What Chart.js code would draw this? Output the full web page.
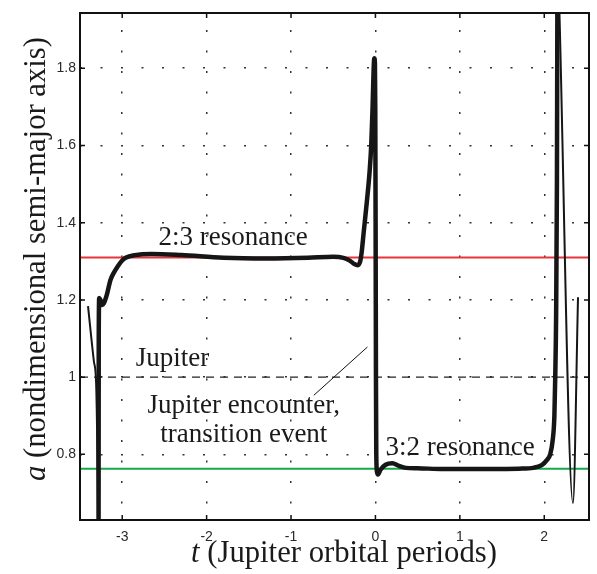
<!DOCTYPE html>
<html>
<head>
<meta charset="utf-8">
<script src="https://cdn.jsdelivr.net/npm/chart.js@4"></script>
<style>
  body { margin: 0; background: #fff; }
  #wrap { width: 597px; height: 574px; }
</style>
</head>
<body>
<div id="wrap"><canvas id="chart"></canvas></div>
<script>
// axis ticks
const tickT = [-3, -2, -1, 0, 1, 2];
const tickA = [0.8, 1, 1.2, 1.4, 1.6, 1.8];

// reference levels: 2:3 resonance, Jupiter, 3:2 resonance
const levelA = [1.31, 1.0, 0.763];

// orbit (t in Jupiter periods, a nondimensional)
const earlyT = [-3.405, -3.37, -3.335, -3.31, -3.297, -3.29, -3.285];
const earlyA = [1.184, 1.11, 1.04, 0.99, 0.85, 0.70, 0.55];

const mainT = [-3.28, -3.278, -3.272, -3.26, -3.24, -3.22, -3.18, -3.14, -3.10, -3.05, -3.0, -2.96,
  -2.85, -2.65, -2.3, -1.8, -1.3, -0.8, -0.5, -0.38, -0.3, -0.25, -0.21, -0.18, -0.165, -0.14,
  -0.10, -0.07, -0.05, -0.035, -0.025, -0.018, -0.012, -0.006, -0.002, 0.002, 0.006, 0.01,
  0.018, 0.03, 0.06, 0.12, 0.2, 0.28, 0.36, 0.5, 0.8, 1.1, 1.4, 1.7, 1.87, 1.97, 2.03, 2.07,
  2.10, 2.12, 2.13, 2.14, 2.15, 2.155, 2.16];
const mainA = [0.55, 1.10, 1.205, 1.20, 1.187, 1.19, 1.215, 1.251, 1.27, 1.288, 1.302, 1.309,
  1.316, 1.319, 1.316, 1.309, 1.307, 1.309, 1.312, 1.309, 1.301, 1.293, 1.29, 1.30, 1.32, 1.373,
  1.458, 1.53, 1.60, 1.69, 1.77, 1.815, 1.826, 1.81, 1.70, 1.40, 1.00, 0.80,
  0.755, 0.748, 0.76, 0.773, 0.777, 0.77, 0.765, 0.764, 0.762, 0.762, 0.762, 0.763, 0.765, 0.772, 0.785, 0.80,
  0.837, 0.90, 1.0, 1.15, 1.5, 1.94, 2.3];

const lateT = [2.179, 2.34, 2.40];
const lateA = [1.95, 0.674, 1.207];

const tMin = -3.5, tMax = 2.53, aMin = 0.63, aMax = 1.943;

const notes = [
  { text: '2:3 resonance', t: -2.57, a: 1.342, align: 'left' },
  { text: 'Jupiter', t: -2.84, a: 1.028, align: 'left' },
  { text: 'Jupiter encounter,', t: -1.56, a: 0.906, align: 'center' },
  { text: 'transition event', t: -1.56, a: 0.832, align: 'center' },
  { text: '3:2 resonance', t: 0.12, a: 0.798, align: 'left' }
];
const pointerT = [-0.73, -0.095];
const pointerA = [0.953, 1.078];

const toPts = (xs, ys) => xs.map((x, i) => ({ x: x, y: ys[i] }));
const level = v => [{ x: tMin, y: v }, { x: tMax, y: v }];

const serif = '"Liberation Serif", "Times New Roman", serif';

const overlay = {
  id: 'overlay',
  afterDatasetsDraw(chart) {
    const ctx = chart.ctx;
    const area = chart.chartArea;
    const x = chart.scales.x, y = chart.scales.y;
    ctx.save();

    // pointer line
    ctx.strokeStyle = '#111';
    ctx.lineWidth = 1;
    ctx.beginPath();
    ctx.moveTo(x.getPixelForValue(pointerT[0]), y.getPixelForValue(pointerA[0]));
    ctx.lineTo(x.getPixelForValue(pointerT[1]), y.getPixelForValue(pointerA[1]));
    ctx.stroke();

    // box and inward ticks
    ctx.lineWidth = 2;
    ctx.strokeRect(area.left, area.top, area.right - area.left, area.bottom - area.top);
    ctx.lineWidth = 1.5;
    ctx.beginPath();
    tickT.forEach(v => {
      const px = x.getPixelForValue(v);
      ctx.moveTo(px, area.bottom); ctx.lineTo(px, area.bottom - 5);
      ctx.moveTo(px, area.top); ctx.lineTo(px, area.top + 5);
    });
    tickA.forEach(v => {
      const py = y.getPixelForValue(v);
      ctx.moveTo(area.left, py); ctx.lineTo(area.left + 5, py);
      ctx.moveTo(area.right, py); ctx.lineTo(area.right - 5, py);
    });
    ctx.stroke();

    // annotations
    ctx.fillStyle = '#1a1a1a';
    ctx.font = '27px ' + serif;
    ctx.textBaseline = 'alphabetic';
    notes.forEach(n => {
      ctx.textAlign = n.align;
      ctx.fillText(n.text, x.getPixelForValue(n.t), y.getPixelForValue(n.a));
    });

    // axis titles with italic symbols
    const title = (sym, rest) => {
      ctx.font = 'italic 30.7px ' + serif;
      const w1 = ctx.measureText(sym).width;
      ctx.font = '30.7px ' + serif;
      const w2 = ctx.measureText(rest).width;
      const start = -(w1 + w2) / 2;
      ctx.textAlign = 'left';
      ctx.font = 'italic 30.7px ' + serif;
      ctx.fillText(sym, start, 0);
      ctx.font = '30.7px ' + serif;
      ctx.fillText(rest, start + w1, 0);
    };
    ctx.save();
    ctx.translate(344, 562);
    title('t', ' (Jupiter orbital periods)');
    ctx.restore();
    ctx.save();
    ctx.translate(45, 259);
    ctx.rotate(-Math.PI / 2);
    title('a', ' (nondimensional semi-major axis)');
    ctx.restore();

    ctx.restore();
  }
};

const tickFont = { family: '"Liberation Sans", Arial, sans-serif', size: 14 };
const fmt = v => String(+v.toFixed(2));

new Chart(document.getElementById('chart'), {
  type: 'line',
  data: {
    datasets: [
      { data: toPts(mainT, mainA), borderColor: '#161616', borderWidth: 4.5 },
      { data: toPts(earlyT, earlyA), borderColor: '#161616', borderWidth: 2 },
      { data: toPts(lateT, lateA), borderColor: '#161616', borderWidth: 2, tension: 0 },
      { data: level(levelA[0]), borderColor: '#e8343a', borderWidth: 2, tension: 0 },
      { data: level(levelA[1]), borderColor: '#222', borderWidth: 1.3, borderDash: [8, 6], tension: 0 },
      { data: level(levelA[2]), borderColor: '#17a84b', borderWidth: 2, tension: 0 }
    ]
  },
  options: {
    responsive: true,
    maintainAspectRatio: false,
    animation: false,
    events: [],
    layout: { padding: { top: 13, right: 8, left: 0, bottom: 0 } },
    elements: {
      point: { radius: 0 },
      line: { cubicInterpolationMode: 'monotone', borderJoinStyle: 'round', fill: false }
    },
    datasets: { line: { clip: 0 } },
    scales: {
      x: {
        type: 'linear',
        min: tMin,
        max: tMax,
        afterBuildTicks: s => { s.ticks = tickT.map(v => ({ value: v })); },
        afterFit: s => { s.height = 54; },
        grid: { color: '#333', lineWidth: 1.5, drawTicks: false },
        border: { display: false, dash: [2, 18.5], dashOffset: 3.5 },
        ticks: { font: tickFont, color: '#2a2a2a', padding: 9, maxRotation: 0, callback: fmt }
      },
      y: {
        type: 'linear',
        min: aMin,
        max: aMax,
        afterBuildTicks: s => { s.ticks = tickA.map(v => ({ value: v })); },
        afterFit: s => { s.width = 80; },
        grid: { color: '#333', lineWidth: 1.5, drawTicks: false },
        border: { display: false, dash: [2, 18.5] },
        ticks: { font: tickFont, color: '#2a2a2a', padding: 4, callback: fmt }
      }
    },
    plugins: {
      legend: { display: false },
      tooltip: { enabled: false }
    }
  },
  plugins: [overlay]
});
</script>
</body>
</html>
